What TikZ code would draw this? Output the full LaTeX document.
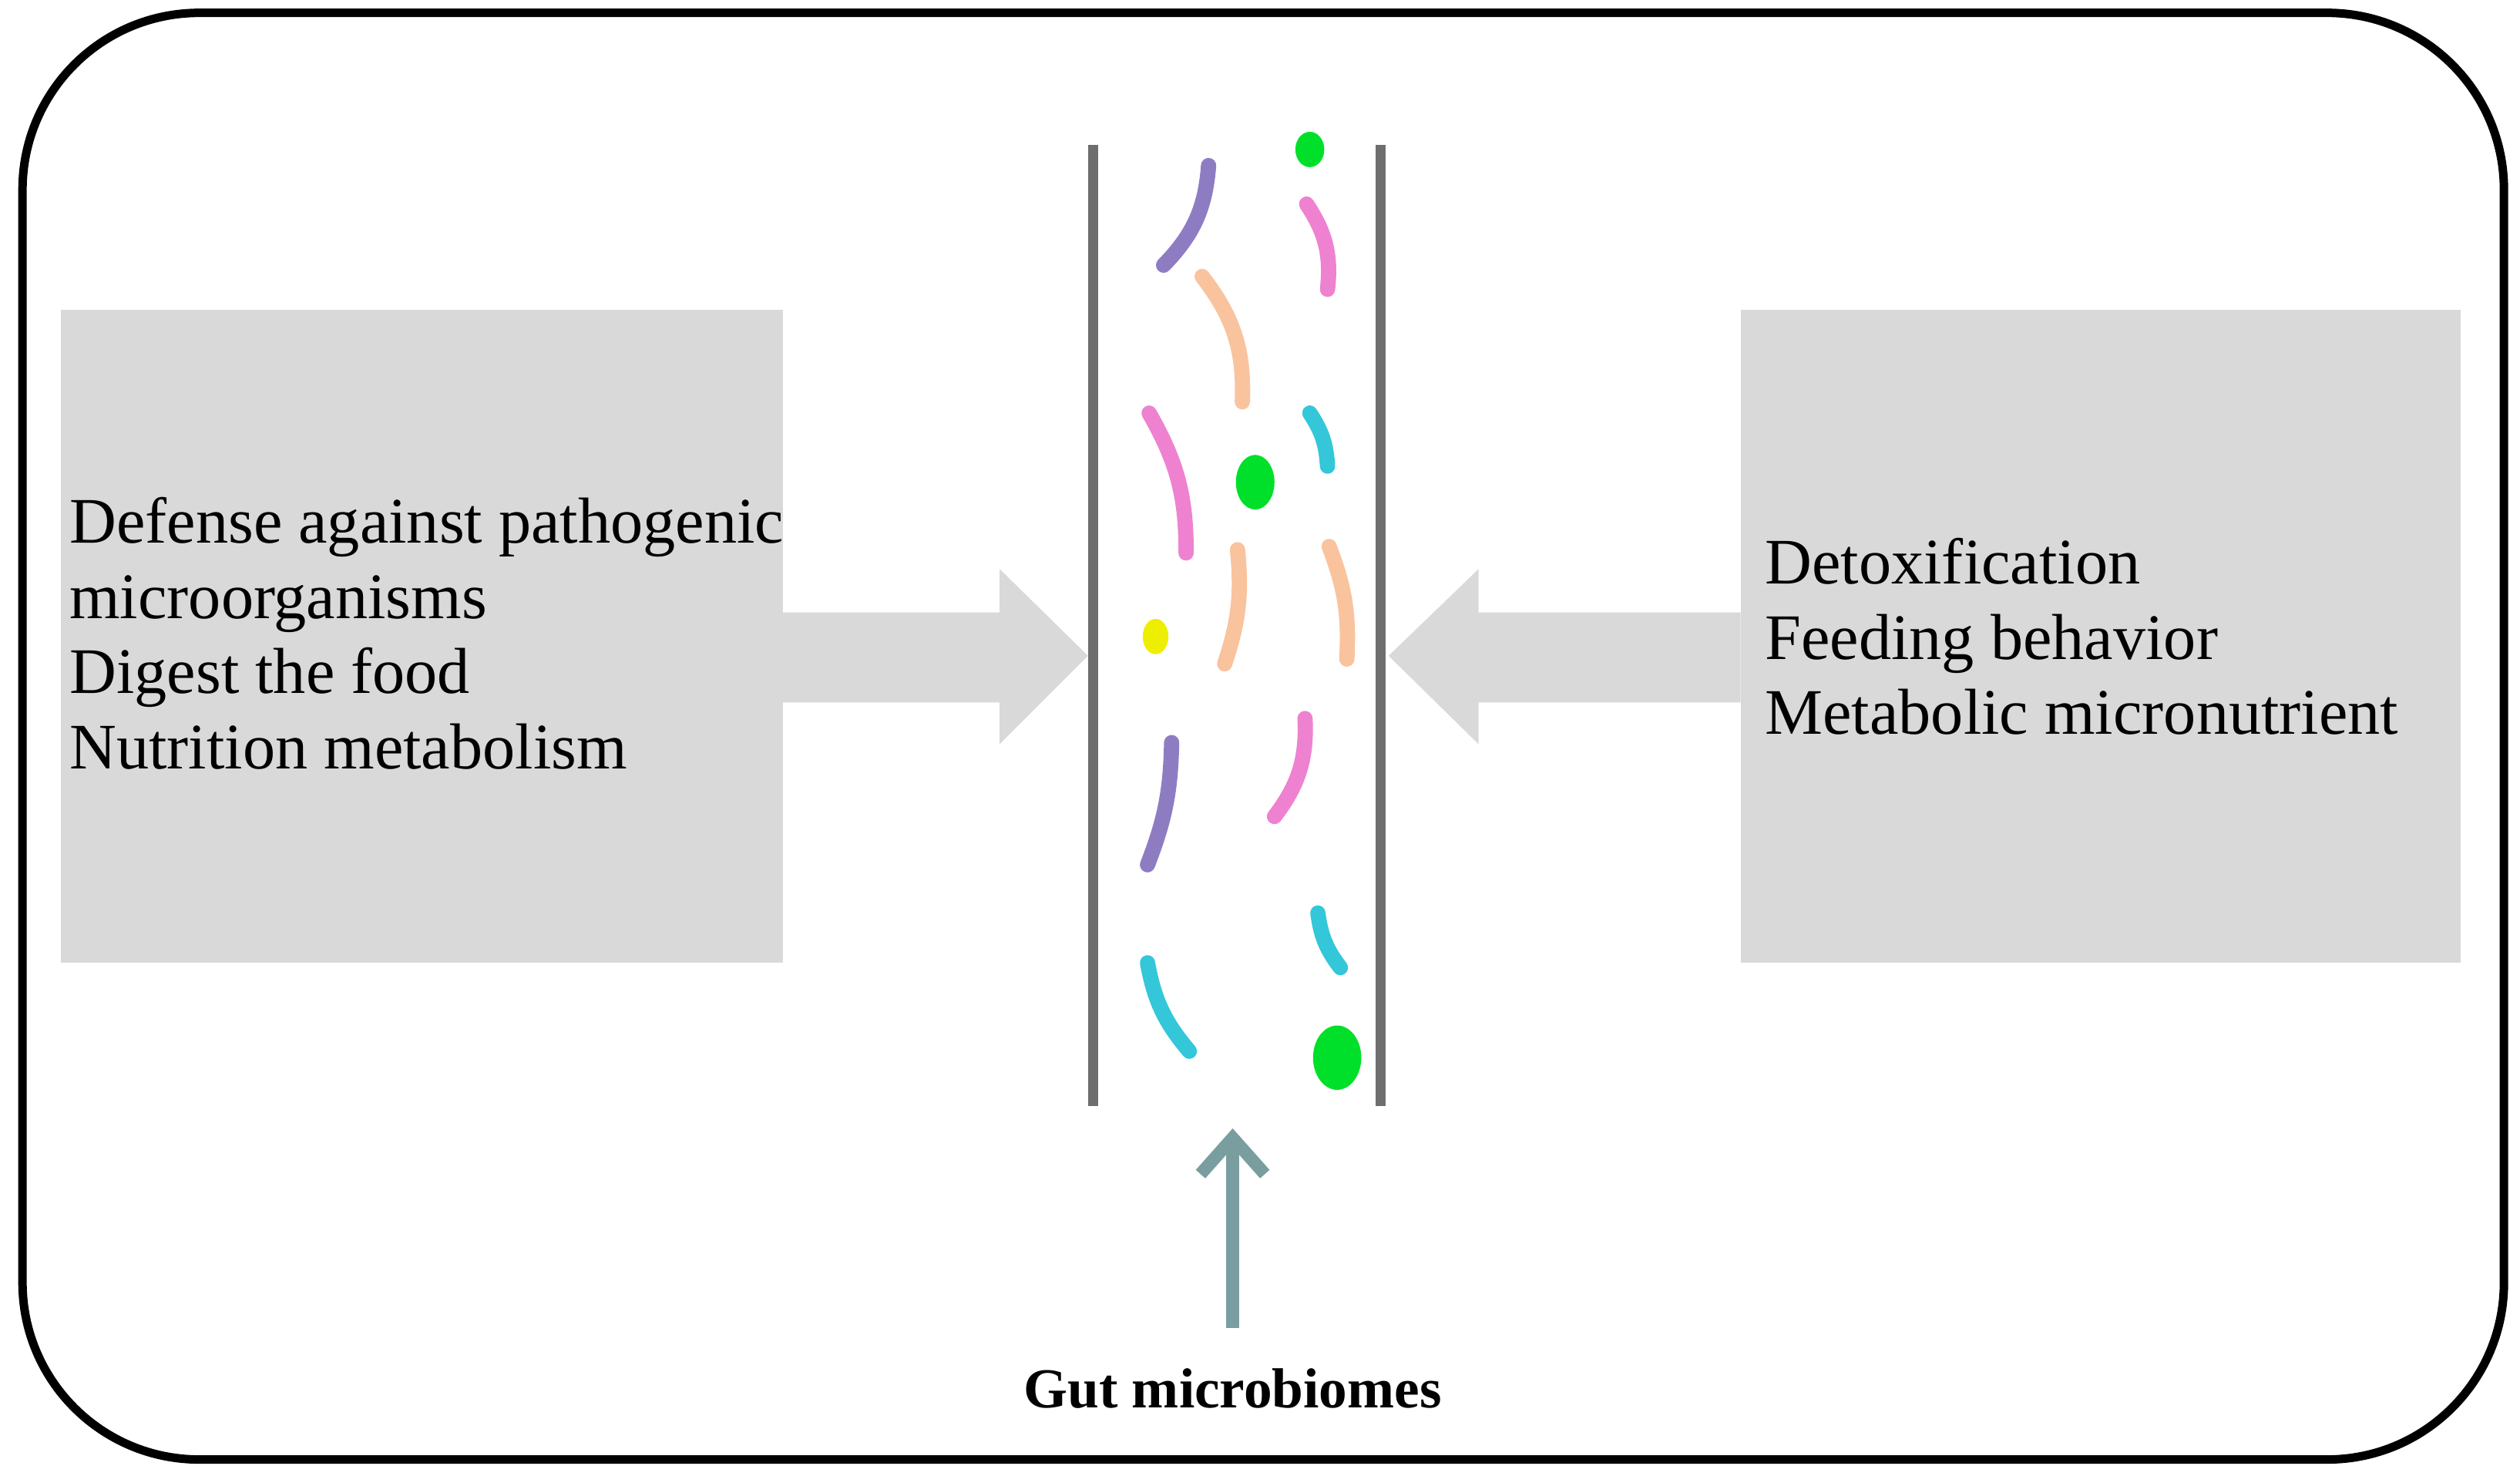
\documentclass[tikz,border=0pt]{standalone}
\usetikzlibrary{arrows.meta}
\usepackage{fontspec}
\setmainfont{Liberation Serif}
\begin{document}
\begin{tikzpicture}[x=0.02cm,y=-0.02cm,
  box/.style={fill=boxgray,draw=none},
  bug/.style={line width=0.19cm,line cap=round},
  txt/.style={font=\fontsize{23}{26.7}\selectfont,align=left,anchor=west,inner sep=0pt}]
\definecolor{boxgray}{HTML}{D9D9D9}
\definecolor{tube}{HTML}{6E6E6E}
\definecolor{teal}{HTML}{7A9E9F}
\definecolor{mpurple}{HTML}{8E7CC3}
\definecolor{mpink}{HTML}{EE82D0}
\definecolor{morange}{HTML}{F9C39E}
\definecolor{mcyan}{HTML}{33C7D9}
\definecolor{mgreen}{HTML}{00E02A}
\definecolor{myellow}{HTML}{EEEE00}
\useasboundingbox (0,0) rectangle (1568,918);
\draw[line width=3pt,rounded corners=2.2cm] (14,8) rectangle (1558,908);
% boxes
\fill[boxgray] (38,193) rectangle (487,599);
\fill[boxgray] (1083,193) rectangle (1531,599);
% block arrows
\fill[boxgray] (487,381) -- (622,381) -- (622,354) -- (677,408) -- (622,463) -- (622,437) -- (487,437) -- cycle;
\fill[boxgray] (1083,381) -- (920,381) -- (920,354) -- (864,408) -- (920,463) -- (920,437) -- (1083,437) -- cycle;
% texts
\node[txt] (lt) at (43,394) {Defense against pathogenic\\microorganisms\\Digest the food\\Nutrition metabolism};
\node[txt] (rt) at (1098,396) {Detoxification\\Feeding behavior\\Metabolic micronutrient};
% tube
\draw[tube,line width=3.5pt] (680,90) -- (680,688);
\draw[tube,line width=3.5pt] (859,90) -- (859,688);
% microbes
\draw[bug,mpurple] (724,165) to[bend right=20] (752,103);
\fill[mgreen] (815,93) ellipse (9 and 11);
\draw[bug,mpink] (813,127) to[bend left=20] (826,180);
\draw[bug,morange] (748,172) to[bend left=20] (773,250);
\draw[bug,mcyan] (815,257) to[bend left=15] (826,290);
\draw[bug,mpink] (715,257) to[bend left=15] (738,344);
\fill[mgreen] (781,300) ellipse (12 and 17);
\draw[bug,morange] (770,342) to[bend left=12] (762,413);
\draw[bug,morange] (827,340) to[bend left=12] (838,410);
\fill[myellow] (719,396) ellipse (8 and 11);
\draw[bug,mpurple] (729,462) to[bend left=10] (714,538);
\draw[bug,mpink] (812,447) to[bend left=20] (793,508);
\draw[bug,mcyan] (820,568) to[bend right=15] (834,602);
\draw[bug,mcyan] (714,599) to[bend right=15] (740,654);
\fill[mgreen] (832,658) ellipse (15 and 20);
% label and arrow
\node[font=\bfseries\fontsize{20}{24}\selectfont,inner sep=0pt] (gm) at (767,864) {Gut microbiomes};
\coordinate (top) at (767,702);
\draw[teal,line width=4.5pt,-{Straight Barb[length=0.45cm,width=0.8cm]}] (767,826) -- (top);
\end{tikzpicture}
\end{document}
